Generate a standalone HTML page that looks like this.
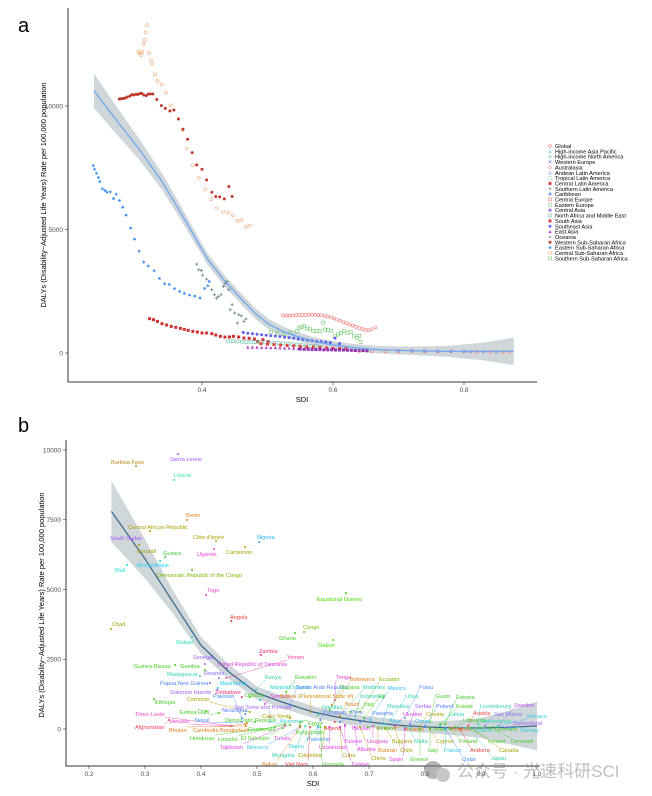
<!DOCTYPE html>
<html><head><meta charset="utf-8">
<style>
html,body{margin:0;padding:0;background:#fff;}
svg{display:block;font-family:"Liberation Sans",Arial,sans-serif;}
.tk{font-size:6.5px;fill:#4d4d4d;}
.ttl{font-size:7.5px;fill:#000;}
.lg{font-size:5.6px;fill:#000;}
.cl{font-size:5.6px;}
</style></head>
<body>
<svg id="svg" width="652" height="796" viewBox="0 0 652 796">
<text x="18" y="32" font-size="20">a</text>
<text x="18" y="432" font-size="20">b</text>
<g id="pa"></g>
<g id="pb"></g>
<g opacity="0.55">
<circle cx="433" cy="770" r="9" fill="#777"/><circle cx="443" cy="775" r="7" fill="#999"/>
<text x="457" y="777" font-size="17" fill="#888" font-family="'Liberation Sans','Noto Sans CJK SC',sans-serif">公众号 · 光速科研SCI</text>
</g>
</svg>
<script>
const NS='http://www.w3.org/2000/svg';
function mk(p,t,a){const e=document.createElementNS(NS,t);for(const k in a)e.setAttribute(k,a[k]);p.appendChild(e);return e;}

/* ---------- Panel a data ---------- */
const regionNames=["Global","High-income Asia Pacific","High-income North America","Western Europe","Australasia","Andean Latin America","Tropical Latin America","Central Latin America","Southern Latin America","Caribbean","Central Europe","Eastern Europe","Central Asia","North Africa and Middle East","South Asia","Southeast Asia","East Asia","Oceania","Western Sub-Saharan Africa","Eastern Sub-Saharan Africa","Central Sub-Saharan Africa","Southern Sub-Saharan Africa"];
const regionColors=["#F8766D","#EB8335","#DA8E00","#C49A00","#A9A400","#86AC00","#53B400","#00BA38","#00BE6C","#00C094","#00C0B8","#00BDD4","#00B5EE","#00A9FF","#619CFF","#9F8CFF","#C77CFF","#E76BF3","#F863DF","#FF61C3","#FF69A0","#FF7880"];
const legendColors=["#F8766D","#7FD4D4","#7FD49C","#8C8CD9","#F8A0A0","#A0A0E8","#B0E8C0","#E04040","#909090","#7A9AFF","#F08080","#80D080","#A080E0","#60C0A0","#D04040","#6A6AFF","#B030C0","#A0A0A0","#C04040","#4A9AFF","#F8B080","#80D080"];
const legendShapes=["oc","ot","pt","x","oc","ot","os","fs","pl","fc","os","os","fs","os","fs","fc","ft","pl","fc","st","oc","os"];

const globalSdi=[0.524,0.529,0.534,0.539,0.544,0.549,0.553,0.558,0.563,0.568,0.573,0.577,0.582,0.587,0.592,0.597,0.601,0.606,0.611,0.616,0.621,0.625,0.630,0.635,0.640,0.645,0.650,0.654,0.659,0.665];
const globalVal=[1520,1520,1515,1520,1530,1540,1540,1540,1550,1550,1550,1540,1530,1510,1480,1440,1400,1350,1310,1260,1210,1160,1110,1060,1010,970,940,920,960,1030];
const eeSdi=[0.505,0.515,0.525,0.535,0.545,0.548,0.552,0.556,0.560,0.565,0.570,0.575,0.580,0.585,0.588,0.592,0.597,0.603,0.608,0.612,0.617,0.622,0.627,0.632,0.637,0.640,0.642];
const eeVal=[850,820,760,820,880,1000,1050,1080,1000,960,900,900,890,1230,950,930,900,700,750,820,880,820,850,700,600,700,450];
const csaSdi=[0.316,0.314,0.313,0.311,0.309,0.307,0.303,0.305,0.319,0.322,0.324,0.328,0.332,0.338,0.345,0.352,0.370,0.377,0.386,0.395,0.405,0.414,0.423,0.432,0.440,0.447,0.454,0.460,0.467,0.473];
const csaVal=[13275,12979,12669,12507,12197,12062,12197,12130,12157,11847,11712,11281,11011,10863,10539,10027,9016,8275,7601,7089,6630,6226,5876,5714,5687,5580,5350,5377,5108,5148];
const wsaSdi=[0.274,0.277,0.280,0.283,0.286,0.290,0.293,0.296,0.299,0.302,0.305,0.308,0.311,0.315,0.318,0.321,0.325,0.331,0.338,0.344,0.351,0.357,0.364,0.371,0.378,0.385,0.392,0.400,0.407,0.415,0.421,0.427,0.434,0.441,0.446];
const wsaVal=[10283,10296,10310,10323,10364,10404,10458,10445,10472,10472,10499,10512,10445,10418,10485,10485,10485,10270,10013,9906,9798,9838,9474,9057,8652,8113,7615,7439,7008,6509,6334,6321,6240,6739,6334];
const esaSdi=[0.234,0.236,0.239,0.242,0.244,0.248,0.252,0.255,0.260,0.265,0.269,0.274,0.279,0.284,0.291,0.297,0.304,0.311,0.318,0.327,0.335,0.343,0.350,0.358,0.366,0.373,0.381,0.389,0.397,0.404,0.409,0.411];
const esaVal=[7588,7439,7278,7102,6941,6644,6577,6509,6523,6253,6428,6172,5903,5580,5054,4609,4124,3679,3518,3329,3019,2803,2776,2601,2493,2412,2345,2305,2224,2615,2722,2897];
const ocSdi=[0.392,0.395,0.399,0.401,0.407,0.415,0.419,0.422,0.425,0.429,0.433,0.435,0.438,0.441,0.443,0.446,0.450,0.454,0.456,0.460,0.464,0.467];
const ocVal=[3598,3369,3342,3154,2992,2560,2358,2224,2291,2358,2695,2803,2897,2560,1752,1954,1617,1213,1550,1509,1280,1375];
const saSdi=[0.320,0.326,0.332,0.339,0.346,0.353,0.360,0.367,0.373,0.379,0.386,0.393,0.400,0.407,0.415,0.421,0.428,0.435,0.442,0.448,0.456,0.464,0.472,0.480,0.485,0.493,0.501];
const saVal=[1388,1348,1280,1186,1132,1078,1038,997,957,916,876,849,809,809,782,728,674,647,647,674,647,606,593,566,472,539,458];
const seaSdi=[0.463,0.470,0.477,0.484,0.491,0.498,0.505,0.512,0.519,0.526,0.533,0.540,0.547,0.554,0.561,0.568,0.575,0.582,0.589,0.596,0.603,0.610];
const seaVal=[830,800,780,760,740,720,700,690,670,640,620,600,570,550,520,500,470,460,440,420,600,380];
const nameSdi=[0.440,0.447,0.454,0.461,0.468,0.475,0.482,0.489,0.496,0.503,0.510,0.517,0.524,0.531,0.538,0.545,0.552,0.559,0.566,0.573,0.580];
const nameVal=[470,480,470,460,450,450,440,430,430,420,410,400,390,370,350,340,320,300,280,270,250];
const eaSdi=[0.470,0.477,0.484,0.491,0.498,0.505,0.512,0.519,0.526,0.533,0.540,0.547];
const eaVal=[240,240,240,230,230,220,220,210,200,200,190,180];
const caSdi=[0.550,0.556,0.562,0.568,0.574,0.580,0.586,0.592,0.598,0.604,0.610,0.616,0.622,0.628,0.634,0.640,0.646,0.652];
const caVal=[160,150,150,140,140,140,130,130,130,120,120,120,110,110,100,100,100,90];
const clSdi=[0.490,0.500,0.510,0.520,0.530,0.540,0.550,0.560,0.570,0.580,0.590,0.600,0.610,0.620];
const clVal=[380,360,340,320,300,290,270,250,240,220,200,190,180,170];
const hiSdi=[0.640,0.660,0.680,0.700,0.720,0.740,0.760,0.780,0.800,0.820,0.840,0.860,0.870];
const hiVal=[60,70,60,70,80,70,60,70,60,50,50,50,40];
const weSdi=[0.700,0.720,0.740,0.760,0.780,0.800,0.810,0.830,0.850];
const weVal=[90,80,80,70,60,60,50,50,40];
const aCurveSdi=[0.235,0.270,0.305,0.340,0.368,0.390,0.409,0.435,0.461,0.483,0.503,0.525,0.545,0.570,0.597,0.630,0.670,0.720,0.774,0.830,0.876];
const aCurveVal=[10620,9400,8220,6900,5660,4650,3780,2900,2160,1560,1146,860,674,470,337,220,135,90,67,60,67];
const aBandHalf=[700,560,420,330,280,250,230,220,220,220,210,200,180,170,160,150,150,170,220,360,560];

/* ---------- Panel b data ---------- */
const countries=["Burkina Faso","Sierra Leone","Liberia","Benin","Central African Republic","South Sudan","Côte d'Ivoire","Nigeria","Burundi","Guinea","Uganda","Cameroon","Mozambique","Mali","Democratic Republic of the Congo","Togo","Equatorial Guinea","Chad","Angola","Congo","Ghana","Malawi","Gabon","Zambia","Senegal","Yemen","Guinea-Bissau","Gambia","United Republic of Tanzania","Rwanda","Madagascar","Kenya","Eswatini","Tonga","Botswana","Ecuador","Papua New Guinea","Mauritania","Marshall Islands","Syrian Arab Republic","Guyana","Maldives","Mexico","Palau","Solomon Islands","Zimbabwe","Djibouti","Somalia","Bolivia (Plurinational State of)","Indonesia","Fiji","Libya","Guam","Estonia","Ethiopia","Comoros","Pakistan","Brazil","Iraq","Sao Tome and Principe","Namibia","Mauritius","Serbia","Poland","Kuwait","Luxembourg","Sweden","Eritrea","Haiti","Nicaragua","Cabo Verde","Paraguay","Peru","Timor-Leste","Panama","Ukraine","Croatia","Latvia","Austria","San Marino","Monaco","Vanuatu","Nepal","Democratic Republic","Myanmar","Egypt","Niue","Oman","Lithuania","Netherlands","Switzerland","Afghanistan","Bhutan","Cambodia","Bangladesh","Guatemala","Algeria","Tokelau","Jordan","Belarus","Israel","Belgium","Iceland","Germany","Norway","Honduras","Lesotho","El Salvador","Tuvalu","Kyrgyzstan","Palestine","Tunisia","Uruguay","Bulgaria","Malta","Cyprus","Finland","Ireland","Denmark","Tajikistan","Morocco","Nauru","Uzbekistan","Albania","Bahrain","Chile","Italy","France","Andorra","Canada","Mongolia","Colombia","Cuba","China","Spain","Greece","Qatar","Japan","Belize","Viet Nam","Grenada","Türkiye"];
const sdiVals=[0.284,0.359,0.352,0.375,0.309,0.277,0.427,0.504,0.289,0.336,0.423,0.479,0.327,0.268,0.384,0.409,0.659,0.239,0.454,0.584,0.568,0.384,0.636,0.507,0.407,0.445,0.354,0.407,0.446,0.432,0.398,0.498,0.552,0.639,0.634,0.684,0.416,0.430,0.505,0.559,0.630,0.648,0.702,0.764,0.429,0.473,0.487,0.514,0.595,0.675,0.691,0.738,0.809,0.836,0.316,0.487,0.473,0.648,0.666,0.523,0.609,0.723,0.773,0.800,0.827,0.895,0.930,0.409,0.432,0.479,0.559,0.613,0.648,0.455,0.684,0.746,0.791,0.827,0.877,0.907,0.930,0.452,0.473,0.496,0.523,0.577,0.729,0.764,0.854,0.898,0.943,0.343,0.480,0.479,0.482,0.559,0.639,0.657,0.698,0.746,0.809,0.845,0.871,0.898,0.952,0.532,0.550,0.546,0.577,0.577,0.609,0.657,0.707,0.729,0.773,0.809,0.845,0.880,0.916,0.550,0.577,0.609,0.630,0.675,0.716,0.746,0.809,0.836,0.863,0.880,0.586,0.621,0.648,0.684,0.764,0.791,0.836,0.880,0.577,0.595,0.613,0.648];
const dalyVals=[9426,9856,8924,7490,7096,6774,6738,6702,6594,6164,6451,6523,6021,5878,5699,4803,4874,3584,3871,3476,3441,3297,3190,2652,2330,1828,2294,2115,2186,1828,1900,1398,1326,1039,860,609,1649,1469,1039,860,681,466,323,394,1398,1147,1147,896,609,466,394,323,251,179,1075,609,394,466,609,430,502,179,179,108,179,179,108,645,573,537,394,323,251,108,251,108,108,108,108,108,100,108,251,251,251,251,179,72,72,72,36,323,108,179,215,143,251,143,72,36,36,36,36,36,36,72,179,36,108,143,108,108,108,36,36,0,0,36,36,108,72,72,72,72,36,36,0,0,0,36,108,72,72,72,0,0,36,0,72,72,72,72];
const countryColors=["#B8860B","#A855F7","#2EE6A0","#E8801A","#A8A000","#A855F7","#A8A000","#1EB0F0","#A8A000","#3EC83E","#F040D0","#A8A000","#20D0F0","#20E0E0","#7AB800","#F040D0","#44DD00","#A8A000","#F04040","#7AB800","#44CC22","#30E0B0","#44DD00","#F03070","#9A60F8","#F040A0","#44CC22","#44CC22","#E040E0","#8A70F0","#30D0B0","#30D0A0","#44CC22","#E040C0","#E0801A","#7AB800","#5080F8","#20C8F0","#20D0D0","#6080F8","#44CC22","#30D0B0","#20C0F0","#5890F8","#A060F0","#F03070","#44CC22","#E040E0","#D09010","#30D0B0","#44CC22","#30D0B0","#44CC22","#44CC22","#44CC22","#A8A000","#4090F8","#E0801A","#44CC22","#A060F0","#30D0B0","#30C8C0","#A060F0","#5080F8","#44CC22","#30D0B0","#B050F0","#44CC22","#44CC22","#5080F8","#A8A000","#5080F8","#5080F8","#F040C0","#5080F8","#E040E0","#A8A000","#30D0B0","#F04040","#8A70F0","#30C8E0","#F040C0","#4090F8","#44CC22","#30D0D0","#44CC22","#30C0F0","#30C0F0","#44CC22","#30D0B0","#A060F0","#F04060","#E0801A","#E0801A","#E0801A","#44CC22","#F04040","#E040E0","#44CC22","#E0801A","#44CC22","#E0801A","#30D0B0","#44CC22","#30C8E0","#44CC22","#44CC22","#44CC22","#E040E0","#44CC22","#4090F8","#E040E0","#E040E0","#A8A000","#30D0B0","#A8A000","#44CC22","#44CC22","#44CC22","#E040E0","#30C8E0","#30C8E0","#E040E0","#E040E0","#E0801A","#A8A000","#44CC22","#30C8E0","#F04040","#A8A000","#30D0B0","#A8A000","#A8A000","#A8A000","#E040E0","#44CC22","#4090F8","#30D0B0","#E0801A","#F04040","#44CC22","#E040E0"];
/* label layout (pixels, left x / centre y) - layout only, not data */
const labelX=[111,170,174,186,128,110,193,257,137,163,197,226,137,115,157,207,317,112,230,303,279,176,318,259,193,287,134,180,217,204,167,265,295,336,350,379,160,220,270,296,340,363,388,419,170,215,245,270,280,360,378,405,435,456,155,187,213,345,364,234,322,387,415,436,456,480,514,180,198,222,262,323,351,135,372,403,426,449,473,494,527,169,195,225,280,308,390,415,463,481,513,135,169,193,220,248,324,351,376,405,433,451,474,495,520,190,218,241,274,296,307,344,367,392,414,436,459,488,511,220,247,289,319,357,378,400,428,444,470,499,272,298,342,371,389,410,462,491,262,285,322,351];
const labelY=[462,459,475,515,527,538,537,537,551,553,554,552,565,570,575,590,599,624,617,627,638,642,645,651,657,657,666,666,664,673,674,677,677,677,679,679,683,683,687,687,687,687,688,687,692,692,695,696,696,696,696,696,696,697,702,699,696,704,704,707,707,706,706,706,706,706,705,712,712,710,716,712,712,714,713,714,714,714,713,714,716,721,720,720,721,723,721,721,720,721,723,727,730,730,730,729,728,728,728,729,729,729,730,729,730,738,739,738,738,732,739,741,741,741,741,741,741,741,741,747,747,746,747,749,750,750,750,750,750,750,755,755,755,758,759,759,759,758,764,764,764,764];
const bCurveSdi=[0.240,0.270,0.300,0.350,0.400,0.450,0.500,0.550,0.600,0.650,0.700,0.750,0.800,0.850,0.900,0.950,1.000];
const bCurveVal=[7800,6950,6100,4550,3000,2043,1290,932,609,400,250,140,72,40,36,60,108];
const bBandHalf=[1100,900,700,420,300,260,230,220,210,200,200,200,210,260,360,600,880];

/* ---------- scales ---------- */
const xa=s=>202+(s-0.4)*655, ya=v=>353-v*0.0247;
const xb=s=>89+(s-0.2)*560, yb=v=>729-v*0.0279;

function marker(g,shape,cx,cy,c,r){
  r=r||1.6;
  let e;
  if(shape==='oc')e=mk(g,'circle',{cx,cy,r,fill:'none',stroke:c,'stroke-width':0.6});
  else if(shape==='fc')e=mk(g,'circle',{cx,cy,r,fill:c});
  else if(shape==='os')e=mk(g,'rect',{x:cx-r,y:cy-r,width:2*r,height:2*r,fill:'none',stroke:c,'stroke-width':0.6});
  else if(shape==='fs')e=mk(g,'rect',{x:cx-r,y:cy-r,width:2*r,height:2*r,fill:c});
  else if(shape==='ft')e=mk(g,'polygon',{points:`${cx},${cy-r} ${cx-r},${cy+r} ${cx+r},${cy+r}`,fill:c});
  else if(shape==='ot')e=mk(g,'polygon',{points:`${cx},${cy-r} ${cx-r},${cy+r} ${cx+r},${cy+r}`,fill:'none',stroke:c,'stroke-width':0.6});
  else if(shape==='pl'||shape==='pt')e=mk(g,'path',{d:`M${cx-r} ${cy}H${cx+r}M${cx} ${cy-r}V${cy+r}`,stroke:c,'stroke-width':0.8});
  else if(shape==='x')e=mk(g,'path',{d:`M${cx-r} ${cy-r}L${cx+r} ${cy+r}M${cx-r} ${cy+r}L${cx+r} ${cy-r}`,stroke:c,'stroke-width':0.7});
  else e=mk(g,'path',{d:`M${cx-r} ${cy}H${cx+r}M${cx} ${cy-r}V${cy+r}M${cx-r*.7} ${cy-r*.7}L${cx+r*.7} ${cy+r*.7}M${cx-r*.7} ${cy+r*.7}L${cx+r*.7} ${cy-r*.7}`,stroke:c,'stroke-width':0.6});
  return e;
}

/* ---------- Panel a ---------- */
const pa=document.getElementById('pa');
(function(){
  // band
  let up=[],dn=[];
  for(let i=0;i<aCurveSdi.length;i++){up.push(xa(aCurveSdi[i])+','+ya(aCurveVal[i]+aBandHalf[i]));dn.unshift(xa(aCurveSdi[i])+','+ya(aCurveVal[i]-aBandHalf[i]));}
  const band=mk(pa,'polygon',{points:up.concat(dn).join(' '),fill:'#a9b6bd',opacity:0.55});
  
  
  const series=[
    [globalSdi,globalVal,0,'#F47C7C','oc'],
    [eeSdi,eeVal,11,'#6CC86C','os'],
    [csaSdi,csaVal,20,'#F5A878','oc'],
    [wsaSdi,wsaVal,18,'#C0392B','fc'],
    [esaSdi,esaVal,19,'#3A8EF0','st'],
    [ocSdi,ocVal,17,'#6E7E7E','pl'],
    [saSdi,saVal,14,'#D03030','fs'],
    [nameSdi,nameVal,13,'#5CC0A0','os'],
    [seaSdi,seaVal,15,'#6060F0','fc'],
    [clSdi,clVal,7,'#E84040','fs'],
    [eaSdi,eaVal,16,'#B030C0','ft'],
    [caSdi,caVal,12,'#9030B0','fs'],
    [hiSdi,hiVal,0,'#F08080','oc'],
    [weSdi,weVal,3,'#8888D8','x']
  ];
  series.forEach((s,si)=>{
    const g=mk(pa,'g',{});
    
    
    for(let i=0;i<s[0].length;i++){marker(g,s[4],xa(s[0][i]),ya(s[1][i]),s[3],1.5);}
  });
  let d='';
  for(let i=0;i<aCurveSdi.length;i++)d+=(i?'L':'M')+xa(aCurveSdi[i])+' '+ya(aCurveVal[i]);
  const ln=mk(pa,'path',{d,fill:'none',stroke:'#6fa8f0','stroke-width':1.3});
  
  
  // axes
  const ax=mk(pa,'path',{d:'M68 8V382H537',fill:'none',stroke:'#333','stroke-width':1});
  
  
  [0.4,0.6,0.8].forEach(t=>{mk(pa,'line',{x1:xa(t),x2:xa(t),y1:382,y2:385,stroke:'#333','stroke-width':0.6});
    const tx=mk(pa,'text',{x:xa(t),y:392,'text-anchor':'middle',class:'tk'});tx.textContent=t.toFixed(1);
    
    });
  [0,5000,10000].forEach(t=>{mk(pa,'line',{x1:65,x2:68,y1:ya(t),y2:ya(t),stroke:'#333','stroke-width':0.6});
    const tx=mk(pa,'text',{x:63,y:ya(t)+2.3,'text-anchor':'end',class:'tk'});tx.textContent=t;
    
    });
  const xt=mk(pa,'text',{x:302,y:402,'text-anchor':'middle',class:'ttl'});xt.textContent='SDI';
  
  
  const yt=mk(pa,'text',{x:0,y:0,'text-anchor':'middle',class:'ttl',transform:'translate(46,195) rotate(-90)'});
  yt.textContent='DALYs (Disability−Adjusted Life Years) Rate per 100,000 population';
  
  
  // legend
  const lg=mk(pa,'g',{});
  
  
  regionNames.forEach((n,i)=>{
    const y=146+i*5.35;
    const it=mk(lg,'g',{});
    
    
    marker(it,legendShapes[i],550,y,legendColors[i],1.5);
    const t=mk(it,'text',{x:555,y:y+2,class:'lg'});t.textContent=n;
  });
})();

/* ---------- Panel b ---------- */
const pb=document.getElementById('pb');
(function(){
  let up=[],dn=[];
  for(let i=0;i<bCurveSdi.length;i++){up.push(xb(bCurveSdi[i])+','+yb(bCurveVal[i]+bBandHalf[i]));dn.unshift(xb(bCurveSdi[i])+','+yb(bCurveVal[i]-bBandHalf[i]));}
  const band=mk(pb,'polygon',{points:up.concat(dn).join(' '),fill:'#a9b6bd',opacity:0.55});
  
  
  let d='';
  for(let i=0;i<bCurveSdi.length;i++)d+=(i?'L':'M')+xb(bCurveSdi[i])+' '+yb(bCurveVal[i]);
  const ln=mk(pb,'path',{d,fill:'none',stroke:'#3d6a8c','stroke-width':1.3});
  
  
  countries.forEach((n,i)=>{
    const g=mk(pb,'g',{});
    
    
    const px=xb(sdiVals[i]),py=yb(dalyVals[i]),c=countryColors[i];
    const t=mk(g,'text',{x:labelX[i],y:labelY[i]+2,class:'cl',fill:c});t.textContent=n;
    const w=t.getComputedTextLength();
    const lx=Math.max(labelX[i],Math.min(px,labelX[i]+w)),ly=labelY[i];
    if(Math.hypot(px-lx,py-ly)>7)mk(g,'line',{x1:px,y1:py,x2:lx,y2:ly+(py>ly?3:-3),stroke:c,'stroke-width':0.4});
    mk(g,'circle',{cx:px,cy:py,r:1,fill:c});
  });
  const ax=mk(pb,'path',{d:'M66 440V766H540',fill:'none',stroke:'#333','stroke-width':1});
  
  
  [0.2,0.3,0.4,0.5,0.6,0.7,0.8,0.9,1.0].forEach(t=>{mk(pb,'line',{x1:xb(t),x2:xb(t),y1:766,y2:769,stroke:'#333','stroke-width':0.6});
    const tx=mk(pb,'text',{x:xb(t),y:776,'text-anchor':'middle',class:'tk'});tx.textContent=t.toFixed(1);
    
    });
  [0,2500,5000,7500,10000].forEach(t=>{mk(pb,'line',{x1:63,x2:66,y1:yb(t),y2:yb(t),stroke:'#333','stroke-width':0.6});
    const tx=mk(pb,'text',{x:61,y:yb(t)+2.3,'text-anchor':'end',class:'tk'});tx.textContent=t;
    
    });
  const xt=mk(pb,'text',{x:313,y:786,'text-anchor':'middle',class:'ttl'});xt.textContent='SDI';
  
  
  const yt=mk(pb,'text',{x:0,y:0,'text-anchor':'middle',class:'ttl',transform:'translate(44,605) rotate(-90)'});
  yt.textContent='DALYs (Disability−Adjusted Life Years) Rate per 100,000 population';
  
  
})();
</script>
</body></html>
